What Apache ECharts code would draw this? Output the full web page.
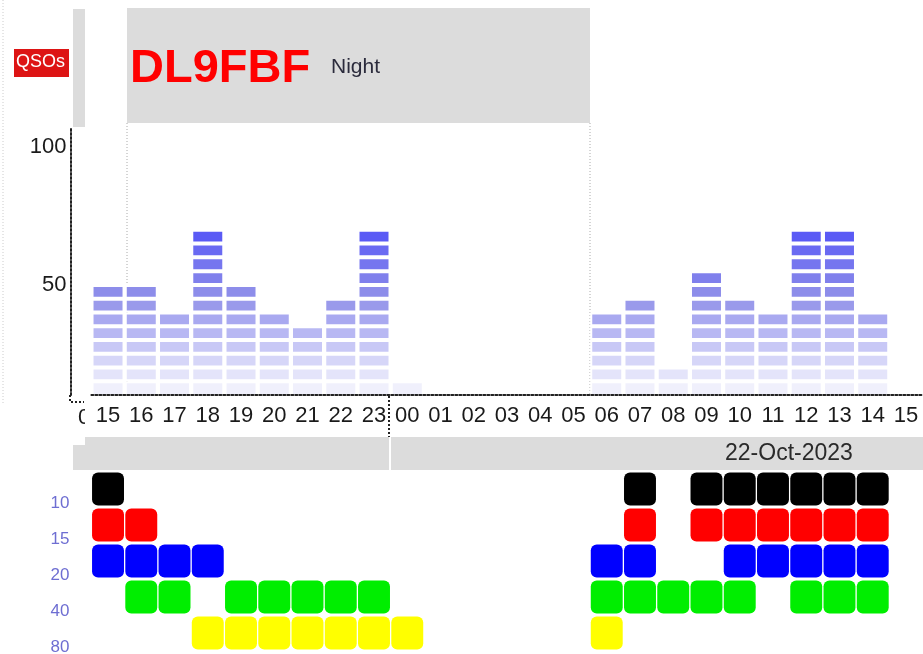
<!DOCTYPE html>
<html>
<head>
<meta charset="utf-8">
<title>DL9FBF rate</title>
<script src="https://cdn.jsdelivr.net/npm/echarts@6/dist/echarts.min.js"></script>
<style>
    html, body { margin: 0; padding: 0; background: #fff; }
    #main { width: 923px; height: 654px; }
</style>
</head>
<body>
<div id="main"></div>
<script>
// hours along the bottom (UTC), left to right
var hours = ['15', '16', '17', '18', '19', '20', '21', '22', '23', '00', '01', '02', '03', '04',
    '05', '06', '07', '08', '09', '10', '11', '12', '13', '14', '15'];
// QSOs per hour
var qsos = [50, 50, 40, 70, 50, 40, 35, 45, 70, 15, 0, 0, 0, 0, 0, 40, 45, 20, 55, 45, 40, 70, 70, 40, 0];
var yTicks = [50, 100];

// bands worked per hour (1 = worked)
var bands = ['10', '15', '20', '40', '80'];
var band10 = [1, 0, 0, 0, 0, 0, 0, 0, 0, 0, 0, 0, 0, 0, 0, 0, 1, 0, 1, 1, 1, 1, 1, 1, 0];
var band15 = [1, 1, 0, 0, 0, 0, 0, 0, 0, 0, 0, 0, 0, 0, 0, 0, 1, 0, 1, 1, 1, 1, 1, 1, 0];
var band20 = [1, 1, 1, 1, 0, 0, 0, 0, 0, 0, 0, 0, 0, 0, 0, 1, 1, 0, 0, 1, 1, 1, 1, 1, 0];
var band40 = [0, 1, 1, 0, 1, 1, 1, 1, 1, 0, 0, 0, 0, 0, 0, 1, 1, 1, 1, 1, 0, 1, 1, 1, 0];
var band80 = [0, 0, 0, 1, 1, 1, 1, 1, 1, 1, 0, 0, 0, 0, 0, 1, 0, 0, 0, 0, 0, 0, 0, 0, 0];
var bandColors = ['#000000', '#ff0000', '#0000ff', '#00ee00', '#ffff00'];

var callsign = 'DL9FBF';
var dateLabel = '22-Oct-2023';

// colour of each 5-QSO step, from 10-15 up to 65-70
var stepColors = ['#f0f0fc', '#e4e4fa', '#d6d6f8', '#c8c8f6', '#b8b8f3', '#a9a9f0',
    '#9a9aeb', '#8d8dea', '#8080ec', '#7676ef', '#6a6af2', '#5a5af5'];

(function() {
    var myChart = echarts.init(document.getElementById('main'));
    var font = 'Liberation Sans, Arial, sans-serif';

    // stacked 5-QSO steps (first one starts at 0, its lower part is clipped at 10)
    var stepSeries = stepColors.map(function(c, i) {
        var top = 15 + i * 5;
        return {
            type: 'bar',
            stack: 'q',
            xAxisIndex: 0,
            yAxisIndex: 0,
            barWidth: 33,
            clip: true,
            itemStyle: { color: c, borderColor: '#fff', borderWidth: 2 },
            data: qsos.map(function(v) {
                return v >= top ? (i === 0 ? top : 5) : '-';
            })
        };
    });

    var bandRows = [band10, band15, band20, band40, band80];
    var cells = [];
    bandRows.forEach(function(row, b) {
        row.forEach(function(on, h) {
            if (on) cells.push([h, b]);
        });
    });

    var dotted = { type: 'dotted', color: '#222', width: 2 };

    var option = {
        animation: false,
        textStyle: { fontFamily: font },
        grid: [
            { left: 91.4, right: 0.4, top: 128, bottom: 259, outerBoundsMode: 'none' },
            { left: 91.4, right: 0.4, top: 471, bottom: 3, outerBoundsMode: 'none' }
        ],
        xAxis: [{
            type: 'category',
            gridIndex: 0,
            data: hours,
            z: 10,
            axisTick: { show: false },
            axisLine: { lineStyle: dotted },
            axisLabel: { interval: 0, color: '#1a1a1a', fontSize: 22, margin: 10, fontFamily: font }
        }, {
            type: 'category',
            gridIndex: 1,
            data: hours,
            show: false
        }],
        yAxis: [{
            type: 'value',
            gridIndex: 0,
            min: 10,
            max: 107,
            interval: 5,
            offset: 21,
            axisLine: { show: true, lineStyle: dotted },
            axisTick: { show: false },
            splitLine: { show: false },
            axisLabel: {
                color: '#1a1a1a',
                fontSize: 22,
                margin: 4,
                fontFamily: font,
                formatter: function(v) {
                    return yTicks.indexOf(v) >= 0 ? String(v) : '';
                }
            }
        }, {
            type: 'category',
            gridIndex: 1,
            data: bands,
            inverse: true,
            axisLine: { show: false },
            axisTick: { show: false },
            axisLabel: {
                color: '#6e6ed2', fontSize: 17, margin: 22, fontFamily: font,
                verticalAlign: 'top', lineHeight: 28
            }
        }],
        graphic: [
            // faint left edge
            { type: 'line', z: 0, shape: { x1: 3, y1: 0, x2: 3, y2: 405 }, style: { stroke: '#ccc', lineWidth: 1, lineDash: [1, 2] } },
            // small grey header block
            { type: 'rect', z: 0, shape: { x: 73, y: 9, width: 12, height: 118 }, style: { fill: '#dcdcdc' } },
            // night shading
            { type: 'rect', z: 0, shape: { x: 127, y: 8, width: 463, height: 115 }, style: { fill: '#dcdcdc' } },
            { type: 'line', z: 0, shape: { x1: 127, y1: 123, x2: 127, y2: 395 }, style: { stroke: '#aaa', lineWidth: 1, lineDash: [1, 2] } },
            { type: 'line', z: 0, shape: { x1: 590, y1: 123, x2: 590, y2: 394 }, style: { stroke: '#aaa', lineWidth: 1, lineDash: [1, 2] } },
            { type: 'text', z: 5, left: 331, top: 57, style: { text: 'Night', fill: '#2b2b3c', font: '21px ' + font } },
            { type: 'text', z: 5, left: 130, top: 46, style: { text: callsign, fill: '#ff0000', font: 'bold 47px ' + font } },
            // QSOs tag
            { type: 'rect', z: 5, shape: { x: 14, y: 49, width: 55, height: 28 }, style: { fill: '#dd1414' } },
            { type: 'text', z: 6, left: 16, top: 53, style: { text: 'QSOs', fill: '#fff', font: '18px ' + font } },
            // corner of the axes
            { type: 'polyline', z: 0, shape: { points: [[70, 395], [70, 402], [84, 402]] }, style: { stroke: '#222', lineWidth: 2, lineDash: [2, 2], fill: null } },
            { type: 'text', z: 0, left: 78, top: 407, style: { text: '0', fill: '#1a1a1a', font: '22px ' + font } },
            { type: 'rect', z: 1, shape: { x: 85, y: 404, width: 7, height: 32 }, style: { fill: '#fff' } },
            // date strip
            { type: 'rect', z: 0, shape: { x: 85, y: 437, width: 838, height: 33 }, style: { fill: '#dcdcdc' } },
            { type: 'rect', z: 0, shape: { x: 73, y: 445, width: 12, height: 25 }, style: { fill: '#dcdcdc' } },
            { type: 'rect', z: 1, shape: { x: 389, y: 437, width: 2, height: 33 }, style: { fill: '#fff' } },
            { type: 'line', z: 1, shape: { x1: 389, y1: 396, x2: 389, y2: 437 }, style: { stroke: '#222', lineWidth: 2, lineDash: [2, 2] } },
            { type: 'text', z: 2, left: 725, top: 442, style: { text: dateLabel, fill: '#2a2a2a', font: '23px ' + font } }
        ],
        series: stepSeries.concat([{
            type: 'custom',
            xAxisIndex: 1,
            yAxisIndex: 1,
            data: cells,
            encode: { x: 0, y: 1 },
            renderItem: function(params, api) {
                var p = api.coord([api.value(0), api.value(1)]);
                var s = api.size([1, 1]);
                var w = s[0] - 1.3;
                var h = s[1] - 3;
                return {
                    type: 'rect',
                    shape: { x: p[0] - w / 2, y: p[1] - h / 2, width: w, height: h, r: 6 },
                    style: { fill: bandColors[api.value(1)] }
                };
            }
        }])
    };

    myChart.setOption(option);
    window.addEventListener('resize', function() {
        myChart.resize();
    });
})();
</script>
</body>
</html>
